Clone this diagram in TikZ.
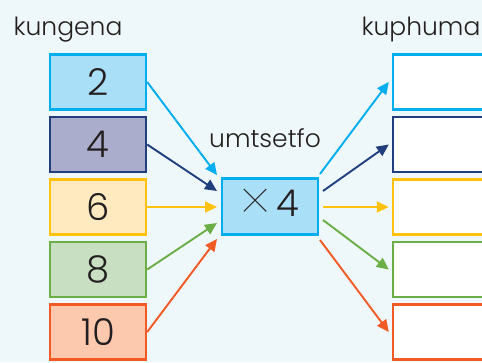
\documentclass[tikz,border=0pt]{standalone}
\usepackage{fontspec}
\setmainfont{Poppins}[UprightFont=* Light]
\newfontfamily\thinpop{Poppins}[UprightFont=* Thin]
\usetikzlibrary{arrows.meta}
\definecolor{bg}{HTML}{EEF7F9}
\definecolor{cyanL}{HTML}{00AEEF}
\definecolor{cyanF}{HTML}{A9DFF7}
\definecolor{navyL}{HTML}{213F7F}
\definecolor{navyF}{HTML}{ABADCC}
\definecolor{yelL}{HTML}{FFC20E}
\definecolor{yelF}{HTML}{FFEAC0}
\definecolor{grnL}{HTML}{6AAE45}
\definecolor{grnF}{HTML}{C8E0C1}
\definecolor{orgL}{HTML}{F15A24}
\definecolor{orgF}{HTML}{FCC9AE}
\definecolor{txt}{HTML}{231F20}
\tikzset{
  numbox/.style={draw=#1, line width=2.4pt, minimum width=96pt, minimum height=55pt, inner sep=0pt,
    text=txt, font=\fontsize{37}{37}\selectfont},
  outbox/.style={draw=#1, fill=white, line width=2.4pt, minimum width=96pt, minimum height=55pt, inner sep=0pt},
  lbl/.style={anchor=base, text=txt, font=\fontsize{25}{25}\selectfont, inner sep=0pt},
  arr/.style={draw=#1, line width=1.9pt, -{Triangle[length=12pt,width=11pt]}}
}
\begin{document}
\begin{tikzpicture}[x=1pt,y=-1pt]
\useasboundingbox (0,0) rectangle (482,362);
\clip (0,0) rectangle (482,362);
\fill[bg] (0,0) rectangle (482,362);
% labels
\node[lbl] (lin) at (68,35) {kungena};
\node[lbl] (lout) at (421,35) {kuphuma};
\node[lbl] (lrule) at (265,147) {umtsetfo};
% input boxes
\node[numbox=cyanL, fill=cyanF] (a1) at (98,82) {2};
\node[numbox=navyL, fill=navyF] (a2) at (98,144.5) {4};
\node[numbox=yelL, fill=yelF] (a3) at (98,207) {6};
\node[numbox=grnL, fill=grnF] (a4) at (98,269.5) {8};
\node[numbox=orgL, fill=orgF] (a5) at (98,332) {10};
% rule box
\node[numbox=cyanL, fill=cyanF, minimum height=56pt] (m) at (270,206.5) {\raisebox{-7pt}{\thinpop\fontsize{60}{37}\selectfont ×}\hspace{7pt}4};
% output boxes
\node[outbox=cyanL] (b1) at (441,82) {};
\node[outbox=navyL] (b2) at (441,144.5) {};
\node[outbox=yelL] (b3) at (441,207) {};
\node[outbox=grnL] (b4) at (441,269.5) {};
\node[outbox=orgL] (b5) at (441,332) {};
% arrow end points near the rule box
\coordinate (i1) at (217,175);
\coordinate (i2) at (217,191);
\coordinate (i3) at (217,207);
\coordinate (i4) at (217,223);
\coordinate (i5) at (217,239);
\coordinate (o1) at (320,174);
\coordinate (o2) at (323,191);
\coordinate (o3) at (323,207);
\coordinate (o4) at (323,220);
\coordinate (o5) at (320,240);
% arrows in
\draw[arr=cyanL] (a1.east) -- (i1);
\draw[arr=navyL] (a2.east) -- (i2);
\draw[arr=yelL] (a3.east) -- (i3);
\draw[arr=grnL] (a4.east) -- (i4);
\draw[arr=orgL] (a5.east) -- (i5);
% arrows out
\draw[arr=cyanL] (o1) -- ([xshift=-3pt]b1.west);
\draw[arr=navyL] (o2) -- ([xshift=-3pt]b2.west);
\draw[arr=yelL] (o3) -- ([xshift=-3pt]b3.west);
\draw[arr=grnL] (o4) -- ([xshift=-3pt]b4.west);
\draw[arr=orgL] (o5) -- ([xshift=-3pt]b5.west);
\end{tikzpicture}
\end{document}
